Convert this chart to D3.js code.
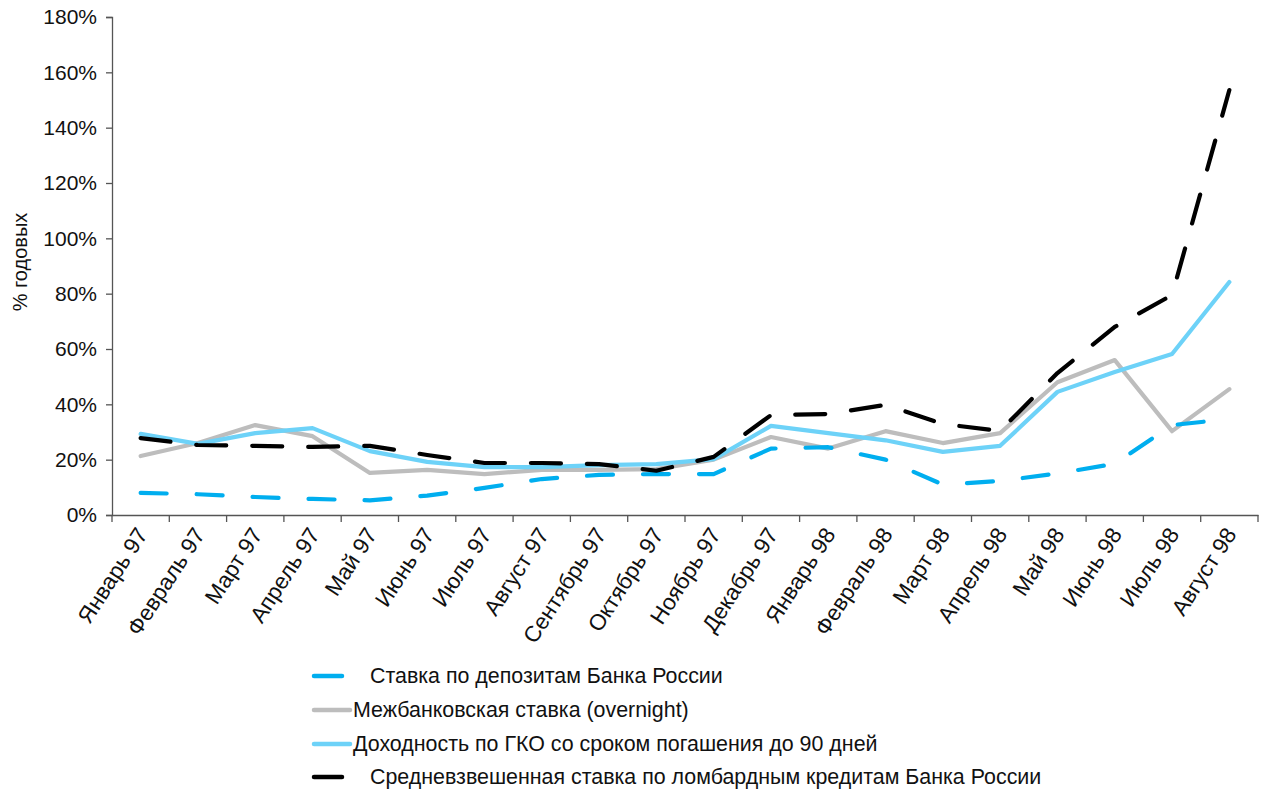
<!DOCTYPE html>
<html><head><meta charset="utf-8">
<script src="https://cdn.jsdelivr.net/npm/d3@7"></script>
<style>
body{margin:0;background:#fff;}
svg text{font-family:"Liberation Sans",Arial,Helvetica,sans-serif;fill:#111;}
</style></head><body>
<svg id="c" width="1263" height="792"></svg>
<script>
const months = ["Январь 97","Февраль 97","Март 97","Апрель 97","Май 97","Июнь 97","Июль 97","Август 97","Сентябрь 97","Октябрь 97","Ноябрь 97","Декабрь 97","Январь 98","Февраль 98","Март 98","Апрель 98","Май 98","Июнь 98","Июль 98","Август 98"];
const deposit   = [8,7.5,6.5,5.8,5.3,7,9.8,13,14.5,14.8,14.8,24,24.5,20,11,12.3,15,18.5,32.5,34.7];
const interbank = [21.3,26,32.5,28.5,15.2,16.3,14.8,16.3,16.3,16.6,20,28.2,24,30.3,26,29.6,48,56,30.3,45.5];
const gko       = [29.3,25.7,29.6,31.4,23.1,19.2,17.3,17.3,18,18.4,20.2,32.2,29.6,27,22.8,25,44.5,51.7,58.2,84.2];
const lombard   = [27.8,25.3,25,24.6,25,21.7,18.8,18.8,18.4,16,21,36.1,36.5,39.8,32.9,30.4,51.3,68,79.5,153.6];
const yTicks = [0,20,40,60,80,100,120,140,160,180];
const yTitle = "% годовых";
const seriesNames = ["Ставка по депозитам Банка России","Межбанковская ставка (overnight)","Доходность по ГКО со сроком погашения до 90 дней","Средневзвешенная ставка по ломбардным кредитам Банка России"];

const series = [
  {name:seriesNames[0], values:deposit,   color:"#00AEEF", dash:"26,30"},
  {name:seriesNames[1], values:interbank, color:"#BDBDBD", dash:null},
  {name:seriesNames[2], values:gko,       color:"#6DD2F8", dash:null},
  {name:seriesNames[3], values:lombard,   color:"#000000", dash:"30,26"}
];

const svg = d3.select("#c");
const L=112, R=1258, T=17, B=515;
const x = d3.scaleBand().domain(months).range([L,R]);
const y = d3.scaleLinear().domain([0,180]).range([B,T]);

// y axis
const ya = svg.append("g").attr("transform",`translate(${L},0)`)
  .call(d3.axisLeft(y).tickValues(yTicks).tickFormat(d=>d+"%").tickSize(6).tickPadding(9));
ya.select(".domain").attr("stroke","#555").attr("stroke-width",1.3);
ya.selectAll(".tick line").attr("stroke","#555").attr("stroke-width",1.3);
ya.selectAll(".tick text").attr("font-size",21).attr("fill","#111").attr("font-family","Liberation Sans, Arial");

// x axis
const xa = svg.append("g").attr("transform",`translate(0,${B})`)
  .call(d3.axisBottom(x).tickSize(0).tickSizeOuter(0));
xa.select(".domain").attr("stroke","#555").attr("stroke-width",1.3);
xa.selectAll(".tick line").remove();
const bounds = months.map(m=>x(m)).concat([R]);
xa.selectAll(".btick").data(bounds).enter().append("line")
  .attr("x1",d=>d).attr("x2",d=>d).attr("y1",0).attr("y2",7)
  .attr("stroke","#555").attr("stroke-width",1.3);
xa.selectAll(".tick text")
  .attr("font-size",22.5).attr("fill","#111").attr("font-family","Liberation Sans, Arial")
  .attr("text-anchor","end").attr("dy",null).attr("y",0)
  .attr("transform",`translate(${x.bandwidth()/2 + 3},16) rotate(-57)`)
  .attr("dominant-baseline","middle");
xa.selectAll(".tick").attr("transform",d=>`translate(${x(d)},0)`);

// y title
svg.append("text").attr("transform",`translate(27,${262}) rotate(-90)`)
  .attr("text-anchor","middle").attr("font-size",20).text(yTitle);

// lines
const line = d3.line().x((d,i)=>x(months[i])+x.bandwidth()/2).y(d=>y(d));
const order=[1,2,0,3];
order.forEach(k=>{
  const s=series[k];
  svg.append("path").datum(s.values).attr("d",line)
    .attr("fill","none").attr("stroke",s.color).attr("stroke-width",4.2)
    .attr("stroke-linecap","round").attr("stroke-linejoin","round")
    .attr("stroke-dasharray",s.dash);
});

// legend
const leg = svg.append("g");
const legY=[676,710,744,777];
series.forEach((s,i)=>{
  const solid = !s.dash;
  leg.append("line").attr("x1",314).attr("x2",solid?350:342).attr("y1",legY[i]).attr("y2",legY[i])
    .attr("stroke",s.color).attr("stroke-width",4.5).attr("stroke-linecap","round");
  leg.append("text").attr("x",solid?353:370).attr("y",legY[i]).attr("dy","0.35em")
    .attr("font-size",21.4).text(s.name);
});
</script></body></html>
